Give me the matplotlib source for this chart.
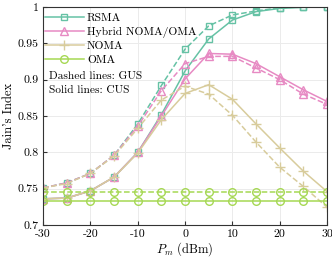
import matplotlib
matplotlib.use("Agg")
import matplotlib.pyplot as plt

plt.rcParams['font.family'] = ['cmr10', 'DejaVu Serif']
plt.rcParams['mathtext.fontset'] = 'cm'
plt.rcParams['axes.formatter.use_mathtext'] = False
plt.rcParams['axes.unicode_minus'] = False

pm = [-30, -25, -20, -15, -10, -5, 0, 5, 10, 15, 20, 25, 30]

rsma_gus = [0.751, 0.758, 0.771, 0.796, 0.839, 0.892, 0.942, 0.974, 0.989, 0.9945, 0.999, 1.0, 1.0]
rsma_cus = [0.736, 0.737, 0.747, 0.766, 0.800, 0.852, 0.912, 0.956, 0.982, 0.9936, 0.998, 0.9995, 1.0]
hyb_gus = [0.751, 0.758, 0.771, 0.796, 0.836, 0.885, 0.922, 0.932, 0.932, 0.916, 0.900, 0.880, 0.866]
hyb_cus = [0.736, 0.737, 0.747, 0.766, 0.800, 0.850, 0.901, 0.936, 0.935, 0.922, 0.904, 0.886, 0.870]
noma_gus = [0.751, 0.757, 0.771, 0.795, 0.833, 0.872, 0.891, 0.880, 0.851, 0.814, 0.7795, 0.753, 0.7245]
noma_cus = [0.736, 0.737, 0.747, 0.766, 0.799, 0.845, 0.881, 0.893, 0.873, 0.839, 0.806, 0.774, 0.746]
oma_gus = [0.746] * 13
oma_cus = [0.7336] * 13

labels = ['RSMA', 'Hybrid NOMA/OMA', 'NOMA', 'OMA']
colors = ['#66c2a5', '#e78ac3', '#d8cc9c', '#a6d854']
markers = ['s', '^', '+', 'o']
msizes = [4.5, 6, 6.5, 5.5]

fig = plt.figure(figsize=(3.32, 2.58), dpi=100)
ax = fig.add_axes([0.13, 0.128, 0.855, 0.845])

series = [(rsma_gus, rsma_cus), (hyb_gus, hyb_cus), (noma_gus, noma_cus), (oma_gus, oma_cus)]
handles = []
for (g, c), lab, col, mk, ms in zip(series, labels, colors, markers, msizes):
    ax.plot(pm, g, linestyle='--', color=col, marker=mk, markersize=ms,
            markerfacecolor='none', markeredgecolor=col, linewidth=1.1, markeredgewidth=1.0)
    h, = ax.plot(pm, c, linestyle='-', color=col, marker=mk, markersize=ms,
                 markerfacecolor='none', markeredgecolor=col, linewidth=1.1, markeredgewidth=1.0, label=lab)
    handles.append(h)

ax.set_xlim(-30, 30)
ax.set_ylim(0.7, 1.0)
ax.set_xticks([-30, -20, -10, 0, 10, 20, 30])
ax.set_yticks([0.7, 0.75, 0.8, 0.85, 0.9, 0.95, 1.0])
ax.set_yticklabels(['0.7', '0.75', '0.8', '0.85', '0.9', '0.95', '1'])
ax.grid(True, color='#ebebeb', linewidth=0.7)
ax.set_axisbelow(True)
ax.tick_params(direction='in', length=3, labelsize=8.5, color='#333333', pad=3)
for s in ax.spines.values():
    s.set_color('#333333')
    s.set_linewidth(0.8)

ax.set_xlabel(r'$P_m$ (dBm)', fontsize=9, labelpad=1)
ax.set_ylabel("Jain's Index", fontsize=9, labelpad=2)

leg = ax.legend(handles=handles, loc='upper left', frameon=False, fontsize=8.3,
                handlelength=3.4, borderaxespad=0.0, borderpad=0.15, labelspacing=0.3,
                handletextpad=0.25, bbox_to_anchor=(0.0, 0.98))
ax.text(0.022, 0.683, 'Dashed lines: GUS', transform=ax.transAxes, fontsize=8.2, va='center')
ax.text(0.022, 0.619, 'Solid lines: CUS', transform=ax.transAxes, fontsize=8.2, va='center')

fig.savefig('out.png', dpi=100)
